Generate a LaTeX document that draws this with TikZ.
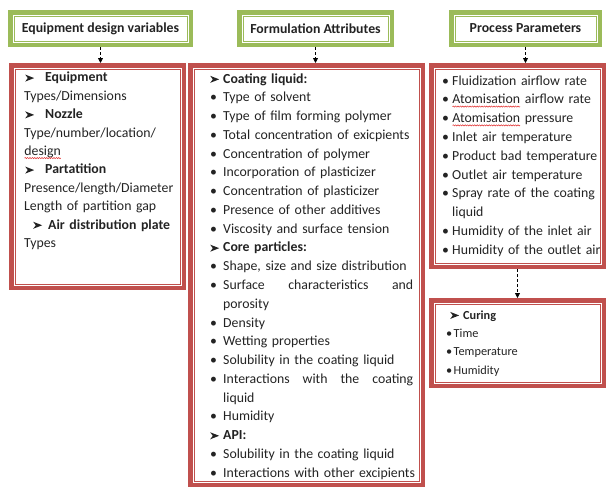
\documentclass[tikz,border=0pt]{standalone}
\usepackage{fontspec}
\setmainfont{Carlito}
\usetikzlibrary{arrows.meta, decorations.pathmorphing}
\definecolor{boxred}{RGB}{192,80,77}
\definecolor{boxgreen}{RGB}{155,187,89}
\definecolor{txt}{RGB}{35,35,35}
\definecolor{spellred}{RGB}{225,45,45}
\newcommand{\arw}{\tikz[baseline=0pt]{\fill[txt] (0pt,0.3pt) -- (9pt,3.8pt) -- (0pt,7.3pt) -- (2.6pt,3.8pt) -- cycle;}}
\newcommand{\hd}[2][13pt]{\makebox[#1][l]{\arw}\textbf{#2}}
\newcommand{\itm}[2][13pt]{\makebox[#1][l]{\textbullet}#2}
\newcommand{\spell}[1]{\tikz[baseline=(w.base)]{\node[inner sep=0pt, outer sep=0pt] (w) {#1};
  \draw[spellred, line width=0.5pt, decorate, decoration={snake, amplitude=0.6pt, segment length=2.4pt}] ([yshift=-2.6pt]w.base west) -- ([yshift=-2.6pt]w.base east);}}
\tikzstyle{header} = [rectangle, draw=boxgreen, line width=4.5pt, minimum height=32.5pt, anchor=north west, text=txt, font=\fontsize{13.8}{16}\selectfont\bfseries]
\tikzstyle{panel} = [rectangle, draw=boxred, line width=4.5pt, anchor=north west]
\tikzstyle{entries} = [anchor=north west, inner sep=0pt, align=left, text=txt]
\tikzstyle{arrow} = [densely dashed, line width=0.8pt, -{Triangle[length=5pt,width=5pt]}]

\begin{document}
\begin{tikzpicture}[x=1pt, y=-1pt]
\useasboundingbox (0,0) rectangle (611,488);

% headers
\node at (8,10) (equiphead) [header, minimum width=180.5pt] {Equipment design variables};
\node at (237,10) (formhead) [header, minimum width=152.5pt] {Formulation Attributes};
\node at (449,10) (prochead) [header, minimum width=148.5pt] {Process Parameters};

% panels
\node at (9,63) (equippanel) [panel, minimum width=172.5pt, minimum height=222.5pt] {};
\node at (188,63) (formpanel) [panel, minimum width=232.5pt, minimum height=419.5pt] {};
\node at (429,63) (procpanel) [panel, minimum width=172.5pt, minimum height=201.5pt] {};
\node at (429,298) (curepanel) [panel, minimum width=172.5pt, minimum height=85.5pt] {};

% thin inner frames
\foreach \n/\c in {equiphead/boxgreen, formhead/boxgreen, prochead/boxgreen,
  equippanel/boxred, formpanel/boxred, procpanel/boxred, curepanel/boxred}
  \draw [\c, line width=1pt] ([shift={(6pt,-6pt)}]\n.north west) rectangle ([shift={(-6pt,6pt)}]\n.south east);

\draw [arrow] (equiphead.south) -- (equiphead.south |- equippanel.north);
\draw [arrow] (formhead.south) -- (formhead.south |- formpanel.north);
\draw [arrow] (prochead.south) -- (prochead.south |- procpanel.north);
\draw [arrow, dash pattern=on 3pt off 2pt] (procpanel.south) -- (curepanel.north);

\node at (24,68.8) (equiplist) [entries, text width=165pt, font=\fontsize{13.8}{18.4}\selectfont] {%
\strut\hspace*{1pt}\hd[20pt]{Equipment}\\
Types/Dimensions\\
\hspace*{1pt}\hd[20pt]{Nozzle}\\
Type/number/location/\\
\spell{design}\\
\hspace*{1pt}\hd[20pt]{Partatition}\\
Presence/length/Diameter\\
Length of partition gap\\
\hspace*{9pt}\hd[15pt]{Air distribution plate}\\
Types};

\node at (210,69.8) (formlist) [entries, text width=220pt, font=\fontsize{13.8}{18.76}\selectfont] {%
\strut\hd{Coating liquid:}\\
\itm{Type of solvent}\\
\itm{Type of film forming polymer}\\
\itm{Total concentration of exicpients}\\
\itm{Concentration of polymer}\\
\itm{Incorporation of plasticizer}\\
\itm{Concentration of plasticizer}\\
\itm{Presence of other additives}\\
\itm{Viscosity and surface tension}\\
\hd{Core particles:}\\
\itm{Shape, size and size distribution}\\
\itm{\makebox[190pt][l]{Surface\hfill characteristics\hfill and}}\\
\hspace*{13pt}porosity\\
\itm{Density}\\
\itm{Wetting properties}\\
\itm{Solubility in the coating liquid}\\
\itm{\makebox[190pt][l]{Interactions\hfill with\hfill the\hfill coating}}\\
\hspace*{13pt}liquid\\
\itm{Humidity}\\
\hd{API:}\\
\itm{Solubility in the coating liquid}\\
\itm{Interactions with other excipients}};

\node at (442,71.8) (proclist) [entries, text width=170pt, font=\fontsize{13.8}{18.8}\selectfont] {%
\strut\itm[10pt]{Fluidization airflow rate}\\
\itm[10pt]{\spell{Atomisation} airflow rate}\\
\itm[10pt]{\spell{Atomisation} pressure}\\
\itm[10pt]{Inlet air temperature}\\
\itm[10pt]{Product bad temperature}\\
\itm[10pt]{Outlet air temperature}\\
\itm[10pt]{Spray rate of the coating}\\
\hspace*{10pt}liquid\\
\itm[10pt]{Humidity of the inlet air}\\
\itm[10pt]{Humidity of the outlet air}};

\node at (446,306.2) (curelist) [entries, text width=150pt, font=\fontsize{12.3}{18.3}\selectfont] {%
\strut\hspace*{4pt}\hd{Curing}\\
\itm[7.5pt]{Time}\\
\itm[7.5pt]{Temperature}\\
\itm[7.5pt]{Humidity}};

\end{tikzpicture}
\end{document}
